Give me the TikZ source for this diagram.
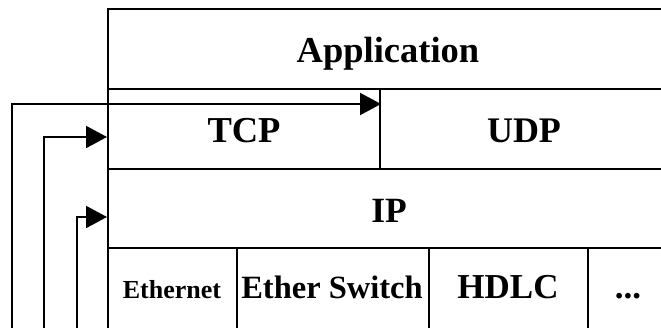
\documentclass[tikz,border=0pt]{standalone}
\usepackage{fontspec}
\setmainfont{Liberation Serif}
\usetikzlibrary{arrows.meta}
\tikzset{
  cell/.style={draw, line width=2pt, rectangle, inner sep=0pt},
  lbl/.style={font=\bfseries, inner sep=0pt, anchor=base},
  link/.style={line width=2pt, -{Triangle[length=21pt,width=22pt]}},
}
\newcommand{\fs}[1]{\fontsize{#1}{#1}\selectfont}
\begin{document}
\begin{tikzpicture}[x=1pt,y=-1pt]
\clip (0,0) rectangle (661,327);
\fill[white] (0,0) rectangle (661,327);

% protocol stack cells
\node[cell, minimum width=560pt, minimum height=80pt] (app)  at (388,49) {};
\node[cell, minimum width=272pt, minimum height=80pt] (tcp)  at (244,129) {};
\node[cell, minimum width=288pt, minimum height=80pt] (udp)  at (524,129) {};
\node[cell, minimum width=560pt, minimum height=79pt] (ip)   at (388,208.5) {};
\node[cell, minimum width=129pt, minimum height=92pt] (eth)  at (172.5,294) {};
\node[cell, minimum width=192pt, minimum height=92pt] (esw)  at (333,294) {};
\node[cell, minimum width=159pt, minimum height=92pt] (hdlc) at (508.5,294) {};
\node[cell, minimum width=80pt,  minimum height=92pt] (more) at (628,294) {};

% labels
\node[lbl, font=\bfseries\fs{36.5}] (tApp)  at (388,62)  {Application};
\node[lbl, font=\bfseries\fs{36.5}] (tTcp)  at (244,142) {TCP};
\node[lbl, font=\bfseries\fs{36}] (tUdp)  at (524,142) {UDP};
\node[lbl, font=\bfseries\fs{35.5}] (tIp)   at (389,222) {IP};
\node[lbl, font=\bfseries\fs{26}] (tEth) at (172,298) {Ethernet};
\node[lbl, font=\bfseries\fs{32.5}] (tEsw)  at (332,298) {Ether Switch};
\node[lbl, font=\bfseries\fs{35}] (tHdlc) at (508,298) {HDLC};
\node[lbl, font=\bfseries\fs{35}] (tMore) at (628,298) {...};

% incoming connections
\coordinate (s1) at (12,335);
\coordinate (s2) at (44,335);
\coordinate (s3) at (77,335);
\coordinate (e1) at ([yshift=-16pt]tcp.north east);
\coordinate (e2) at ([yshift=-8pt]tcp.west);
\coordinate (e3) at ([yshift=-8.5pt]ip.west);
\draw[link] (s1) |- (e1);
\draw[link] (s2) |- (e2);
\draw[link] (s3) |- (e3);
\end{tikzpicture}
\end{document}
